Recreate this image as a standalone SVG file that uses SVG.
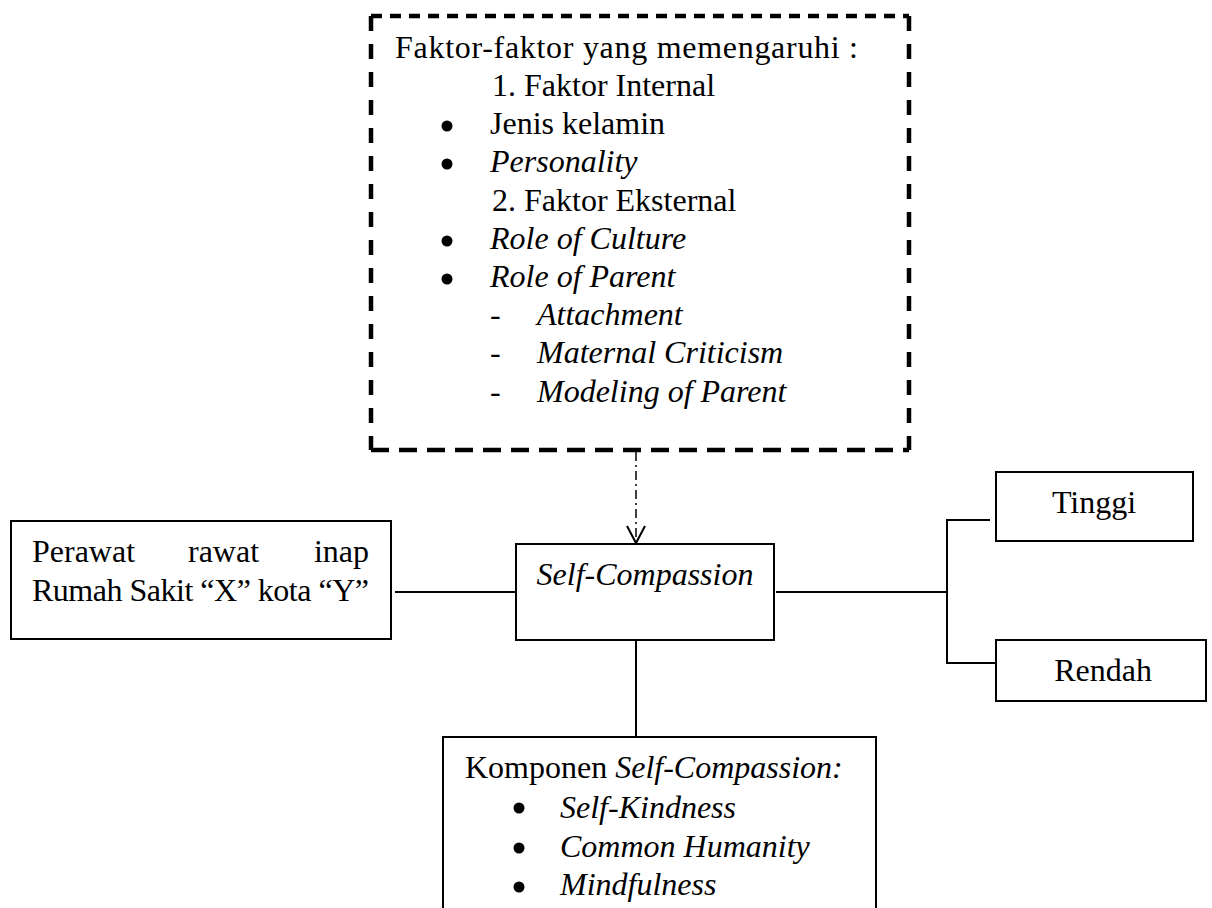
<svg xmlns="http://www.w3.org/2000/svg" width="1212" height="908" viewBox="0 0 1212 908">
<style>
.t{font-family:"Liberation Serif","Times New Roman",serif;font-size:32px;fill:#000}
.i{font-style:italic}
.box{fill:#fff;stroke:#000;stroke-width:2}
.ln{stroke:#000;stroke-width:2;fill:none}
.dash{stroke:#000;stroke-width:4.5;fill:none;stroke-linecap:butt}
.dot{fill:#000}
</style>
<rect width="1212" height="908" fill="#fff"/>

<g id="connectors">
  <line class="ln" x1="395" y1="592" x2="516" y2="592"/>
  <line class="ln" x1="776" y1="592" x2="947" y2="592"/>
  <line class="ln" x1="947" y1="519" x2="947" y2="664"/>
  <line class="ln" x1="946" y1="520" x2="990" y2="520"/>
  <line class="ln" x1="946" y1="663" x2="998" y2="663"/>
  <line class="ln" x1="636" y1="641" x2="636" y2="737"/>
  <line stroke="#000" stroke-width="1.5" stroke-dasharray="9 4 2 4" x1="636" y1="452" x2="636" y2="542"/>
  <polyline class="ln" stroke-width="1.8" points="627,526 636,543 645,526"/>
</g>

<g id="faktor">
  <line class="dash" x1="371" y1="16" x2="909" y2="16" stroke-dasharray="11 8"/>
  <line class="dash" x1="371" y1="16" x2="371" y2="450" stroke-dasharray="15 13"/>
  <line class="dash" x1="909" y1="16" x2="909" y2="450" stroke-dasharray="15 13"/>
  <line class="dash" x1="371" y1="450" x2="909" y2="450" stroke-dasharray="18 10"/>
  <text class="t" x="395" y="58" textLength="463">Faktor-faktor yang memengaruhi :</text>
  <text class="t" x="492" y="96">1. Faktor Internal</text>
  <circle class="dot" cx="447" cy="126" r="5.5"/>
  <text class="t" x="490" y="134">Jenis kelamin</text>
  <circle class="dot" cx="447" cy="164" r="5.5"/>
  <text class="t i" x="490" y="172">Personality</text>
  <text class="t" x="492" y="211">2. Faktor Eksternal</text>
  <circle class="dot" cx="447" cy="241" r="5.5"/>
  <text class="t i" x="490" y="249">Role of Culture</text>
  <circle class="dot" cx="447" cy="279" r="5.5"/>
  <text class="t i" x="490" y="287">Role of Parent</text>
  <text class="t" x="490" y="325">-</text>
  <text class="t i" x="537" y="325">Attachment</text>
  <text class="t" x="490" y="363">-</text>
  <text class="t i" x="537" y="363">Maternal Criticism</text>
  <text class="t" x="490" y="402">-</text>
  <text class="t i" x="537" y="402">Modeling of Parent</text>
</g>

<g id="perawat">
  <rect class="box" x="11" y="521" width="380" height="118"/>
  <text class="t" y="562"><tspan x="32">Perawat</tspan><tspan x="188">rawat</tspan><tspan x="369" text-anchor="end">inap</tspan></text>
  <text class="t" x="32" y="601" textLength="337">Rumah Sakit “X” kota “Y”</text>
</g>

<g id="self-compassion">
  <rect class="box" x="516" y="544" width="258" height="96"/>
  <text class="t i" x="645" y="585" text-anchor="middle">Self-Compassion</text>
</g>

<g id="tinggi">
  <rect class="box" x="996" y="472" width="197" height="69"/>
  <text class="t" x="1094" y="513" text-anchor="middle">Tinggi</text>
</g>

<g id="rendah">
  <rect class="box" x="996" y="640" width="210" height="61"/>
  <text class="t" x="1103" y="681" text-anchor="middle">Rendah</text>
</g>

<g id="komponen">
  <rect class="box" x="443" y="737" width="433" height="190"/>
  <text class="t" x="465" y="778">Komponen <tspan class="i">Self-Compassion:</tspan></text>
  <circle class="dot" cx="519" cy="808" r="5.5"/>
  <text class="t i" x="560" y="818">Self-Kindness</text>
  <circle class="dot" cx="519" cy="848" r="5.5"/>
  <text class="t i" x="560" y="857">Common Humanity</text>
  <circle class="dot" cx="519" cy="887" r="5.5"/>
  <text class="t i" x="560" y="895">Mindfulness</text>
</g>
</svg>
